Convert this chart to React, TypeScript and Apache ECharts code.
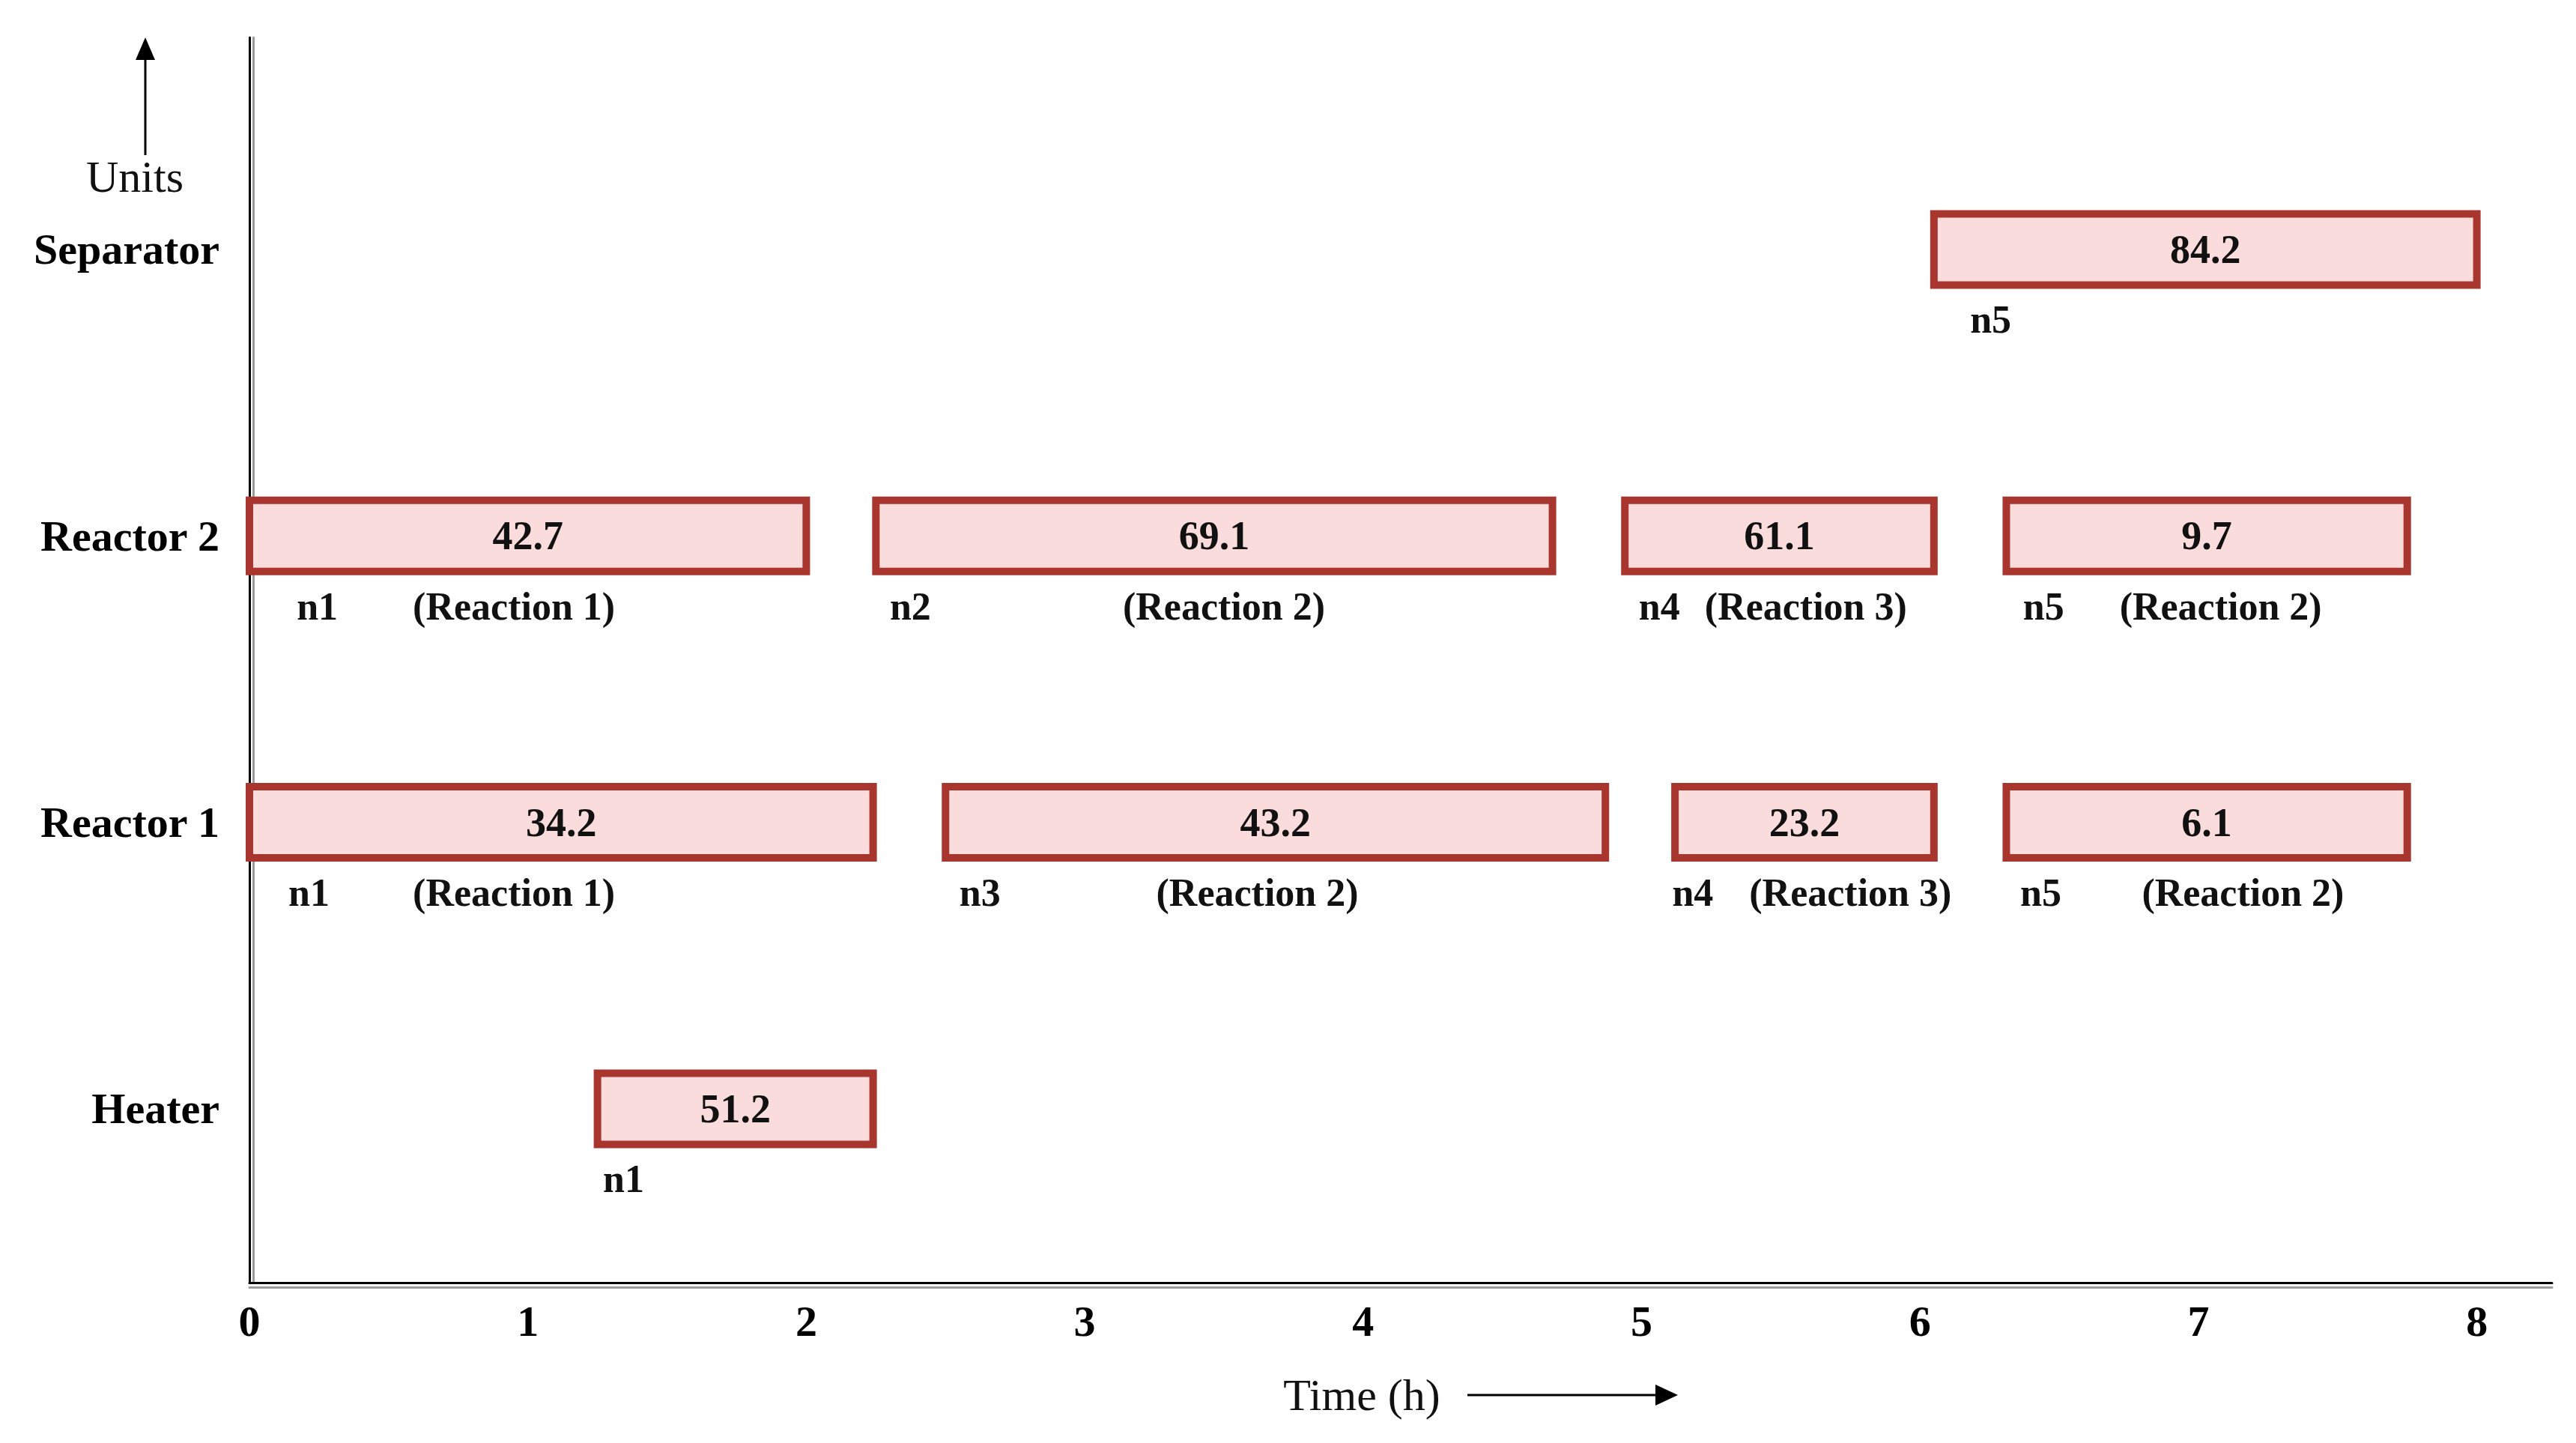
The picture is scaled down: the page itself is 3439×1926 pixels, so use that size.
import React, { useEffect, useRef } from "react";
import * as echarts from "echarts";

// ---- data ----
const units = ["Heater", "Reactor 1", "Reactor 2", "Separator"];
const hourTicks = [0, 1, 2, 3, 4, 5, 6, 7, 8];

const taskUnit = [3, 2, 2, 2, 2, 1, 1, 1, 1, 0];
const taskStart = [6.05, 0, 2.25, 4.94, 6.31, 0, 2.5, 5.12, 6.31, 1.25];
const taskEnd = [8.0, 2.0, 4.68, 6.05, 7.75, 2.24, 4.87, 6.05, 7.75, 2.24];
const taskValue = [84.2, 42.7, 69.1, 61.1, 9.7, 34.2, 43.2, 23.2, 6.1, 51.2];
const taskNode = ["n5", "n1", "n2", "n4", "n5", "n1", "n3", "n4", "n5", "n1"];
const taskReaction = [
  "",
  "(Reaction 1)",
  "(Reaction 2)",
  "(Reaction 3)",
  "(Reaction 2)",
  "(Reaction 1)",
  "(Reaction 2)",
  "(Reaction 3)",
  "(Reaction 2)",
  "",
];
// annotation anchors (hours) for the labels under each bar
const nodeLabelAt = [6.18, 0.17, 2.3, 4.99, 6.37, 0.14, 2.55, 5.11, 6.36, 1.27];
const reactionLabelAt = [0, 0.95, 3.5, 5.59, 7.08, 0.95, 3.62, 5.75, 7.16, 0];

const FONT = '"Liberation Serif", "Times New Roman", serif';
const BORDER = "#A9352F";
const FILL = "#F9DCDB";

export default function App() {
  const ref = useRef<HTMLDivElement>(null);

  useEffect(() => {
    if (!ref.current) return;
    const chart = echarts.init(ref.current, undefined, { renderer: "svg" });

    const data = taskStart.map((s, i) => [s, taskEnd[i], taskValue[i], taskUnit[i]]);

    const renderItem = (params: any, api: any) => {
      const i = params.dataIndex;
      const u = api.value(3);
      const p0 = api.coord([api.value(0), u]);
      const p1 = api.coord([api.value(1), u]);
      const h = 95;
      const yc = p0[1];
      const children: any[] = [
        {
          type: "rect",
          shape: { x: p0[0], y: yc - h / 2, width: p1[0] - p0[0], height: h },
          style: { fill: FILL, stroke: BORDER, lineWidth: 10 },
        },
        {
          type: "text",
          x: (p0[0] + p1[0]) / 2,
          y: yc,
          style: {
            text: Number(api.value(2)).toFixed(1),
            fontFamily: FONT,
            fontWeight: "bold",
            fontSize: 54,
            fill: "#111",
            align: "center",
            verticalAlign: "middle",
          },
        },
      ];
      const nx = api.coord([nodeLabelAt[i], u])[0];
      children.push({
        type: "text",
        x: nx,
        y: yc + 94,
        style: {
          text: taskNode[i],
          fontFamily: FONT,
          fontWeight: "bold",
          fontSize: 52,
          fill: "#111",
          align: "left",
          verticalAlign: "middle",
        },
      });
      if (taskReaction[i]) {
        const rx = api.coord([reactionLabelAt[i], u])[0];
        children.push({
          type: "text",
          x: rx,
          y: yc + 94,
          style: {
            text: taskReaction[i],
            fontFamily: FONT,
            fontWeight: "bold",
            fontSize: 52,
            fill: "#111",
            align: "center",
            verticalAlign: "middle",
          },
        });
      }
      return { type: "group", children };
    };

    const option: any = {
      animation: false,
      backgroundColor: "#ffffff",
      grid: { left: 333, right: 32, top: 50, bottom: 214, containLabel: false },
      xAxis: [
        {
          type: "value",
          min: 0,
          max: 8.27,
          axisLine: { show: true, onZero: false, lineStyle: { color: "#000", width: 3 } },
          axisTick: { show: false },
          splitLine: { show: false },
          axisLabel: {
            customValues: hourTicks,
            formatter: (v: number) => String(v),
            fontFamily: FONT,
            fontWeight: "bold",
            fontSize: 58,
            color: "#000",
            margin: 22,
          },
        },
        {
          type: "value",
          position: "bottom",
          offset: 6,
          min: 0,
          max: 8.27,
          axisLine: { show: true, onZero: false, lineStyle: { color: "#9a9a9a", width: 3 } },
          axisTick: { show: false },
          splitLine: { show: false },
          axisLabel: { show: false },
        },
      ],
      yAxis: [
        {
          type: "value",
          min: -0.607,
          max: 3.74,
          axisLine: { show: true, onZero: false, lineStyle: { color: "#000", width: 3 } },
          axisTick: { show: false },
          splitLine: { show: false },
          axisLabel: {
            customValues: [0, 1, 2, 3],
            formatter: (v: number) => units[Math.round(v)] ?? "",
            fontFamily: FONT,
            fontWeight: "bold",
            fontSize: 58,
            color: "#000",
            margin: 40,
          },
        },
        {
          type: "value",
          position: "left",
          offset: -5,
          min: -0.607,
          max: 3.74,
          axisLine: { show: true, onZero: false, lineStyle: { color: "#9a9a9a", width: 3 } },
          axisTick: { show: false },
          splitLine: { show: false },
          axisLabel: { show: false },
        },
      ],
      graphic: [
        {
          type: "line",
          shape: { x1: 194, y1: 207, x2: 194, y2: 74 },
          style: { stroke: "#000", lineWidth: 3 },
        },
        {
          type: "polygon",
          shape: { points: [[194, 50], [181, 80], [207, 80]] },
          style: { fill: "#000" },
        },
        {
          type: "text",
          x: 180,
          y: 236,
          style: {
            text: "Units",
            fontFamily: FONT,
            fontSize: 60,
            fill: "#111",
            align: "center",
            verticalAlign: "middle",
          },
        },
        {
          type: "text",
          x: 1818,
          y: 1862,
          style: {
            text: "Time (h)",
            fontFamily: FONT,
            fontSize: 60,
            fill: "#111",
            align: "center",
            verticalAlign: "middle",
          },
        },
        {
          type: "line",
          shape: { x1: 1959, y1: 1862, x2: 2215, y2: 1862 },
          style: { stroke: "#000", lineWidth: 3 },
        },
        {
          type: "polygon",
          shape: { points: [[2240, 1862], [2210, 1848], [2210, 1876]] },
          style: { fill: "#000" },
        },
      ],
      series: [
        {
          type: "custom",
          renderItem,
          data,
          encode: { x: [0, 1], y: 3 },
          clip: false,
          xAxisIndex: 0,
          yAxisIndex: 0,
        },
      ],
    };

    chart.setOption(option);
    const onResize = () => chart.resize();
    window.addEventListener("resize", onResize);
    return () => {
      window.removeEventListener("resize", onResize);
      chart.dispose();
    };
  }, []);

  return (
    <div
      ref={ref}
      style={{ position: "fixed", left: 0, top: 0, width: "100vw", height: "100vh", background: "#fff" }}
    />
  );
}
